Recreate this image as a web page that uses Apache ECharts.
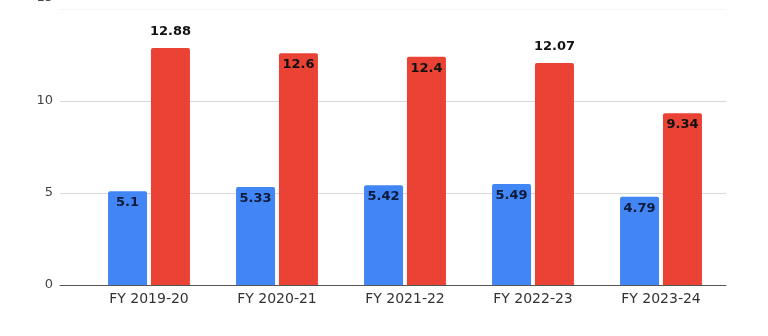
<!DOCTYPE html>
<html>
<head>
<meta charset="utf-8">
<script src="https://cdn.jsdelivr.net/npm/echarts@6/dist/echarts.min.js"></script>
<style>html,body{margin:0;padding:0;background:#fff}#c{width:768px;height:336px}</style>
</head>
<body>
<div id="c"></div>
<script>
const categories = ['FY 2019-20', 'FY 2020-21', 'FY 2021-22', 'FY 2022-23', 'FY 2023-24'];
const blueValues = [5.1, 5.33, 5.42, 5.49, 4.79];
const redValues = [12.88, 12.6, 12.4, 12.07, 9.34];
const redLabelOutside = [true, false, false, true, false];
const yTicks = [0, 5, 10, 15];

const FONT = '"DejaVu Sans", sans-serif';
const chart = echarts.init(document.getElementById('c'));
const labelBase = {show: true, fontFamily: FONT, fontWeight: 'bold', fontSize: 13, color: '#111'};
const yMax = yTicks[yTicks.length - 1];
chart.setOption({
  animation: false,
  grid: [
    {left: 60, right: 42, top: 9, bottom: 51, outerBoundsMode: 'none', containLabel: false},
    {left: 85, right: 43, top: 9, bottom: 51, outerBoundsMode: 'none', containLabel: false}
  ],
  xAxis: [
    {gridIndex: 0, type: 'category', data: categories, axisLabel: {show: false}, axisTick: {show: false},
     axisLine: {lineStyle: {color: '#555', width: 1}}},
    {gridIndex: 1, type: 'category', data: categories, axisTick: {show: false}, axisLine: {show: false},
     axisLabel: {margin: 7, fontFamily: FONT, fontSize: 14, color: '#333'}}
  ],
  yAxis: [
    {gridIndex: 0, type: 'value', min: yTicks[0], max: yMax, interval: 5,
     axisLine: {show: false}, axisTick: {show: false},
     axisLabel: {fontFamily: FONT, fontSize: 13, color: '#444', margin: 7,
       formatter: v => v === yMax ? '{top|' + v + '}' : String(v),
       rich: {top: {fontFamily: FONT, fontSize: 13, color: '#444', padding: [0, 0, 22, 0]}}},
     splitLine: {lineStyle: {color: ['#d9d9d9', '#d9d9d9', '#d9d9d9', '#f6f6f6']}}},
    {gridIndex: 1, type: 'value', min: yTicks[0], max: yMax, interval: 5, show: false,
     splitLine: {show: false}}
  ],
  series: [
    {type: 'bar', xAxisIndex: 1, yAxisIndex: 1, barWidth: 39, barGap: '10%',
     itemStyle: {color: '#4285F4', borderRadius: [2, 2, 0, 0]},
     label: Object.assign({}, labelBase, {position: 'insideTop', distance: 5, color: '#0d1a3a'}),
     data: blueValues},
    {type: 'bar', xAxisIndex: 1, yAxisIndex: 1, barWidth: 39,
     itemStyle: {color: '#EA4335', borderRadius: [2, 2, 0, 0]},
     label: Object.assign({}, labelBase, {position: 'insideTop', distance: 5}),
     data: redValues.map((v, i) => redLabelOutside[i]
       ? {value: v, label: {position: 'top', distance: 10}}
       : {value: v})}
  ]
});
</script>
</body>
</html>
